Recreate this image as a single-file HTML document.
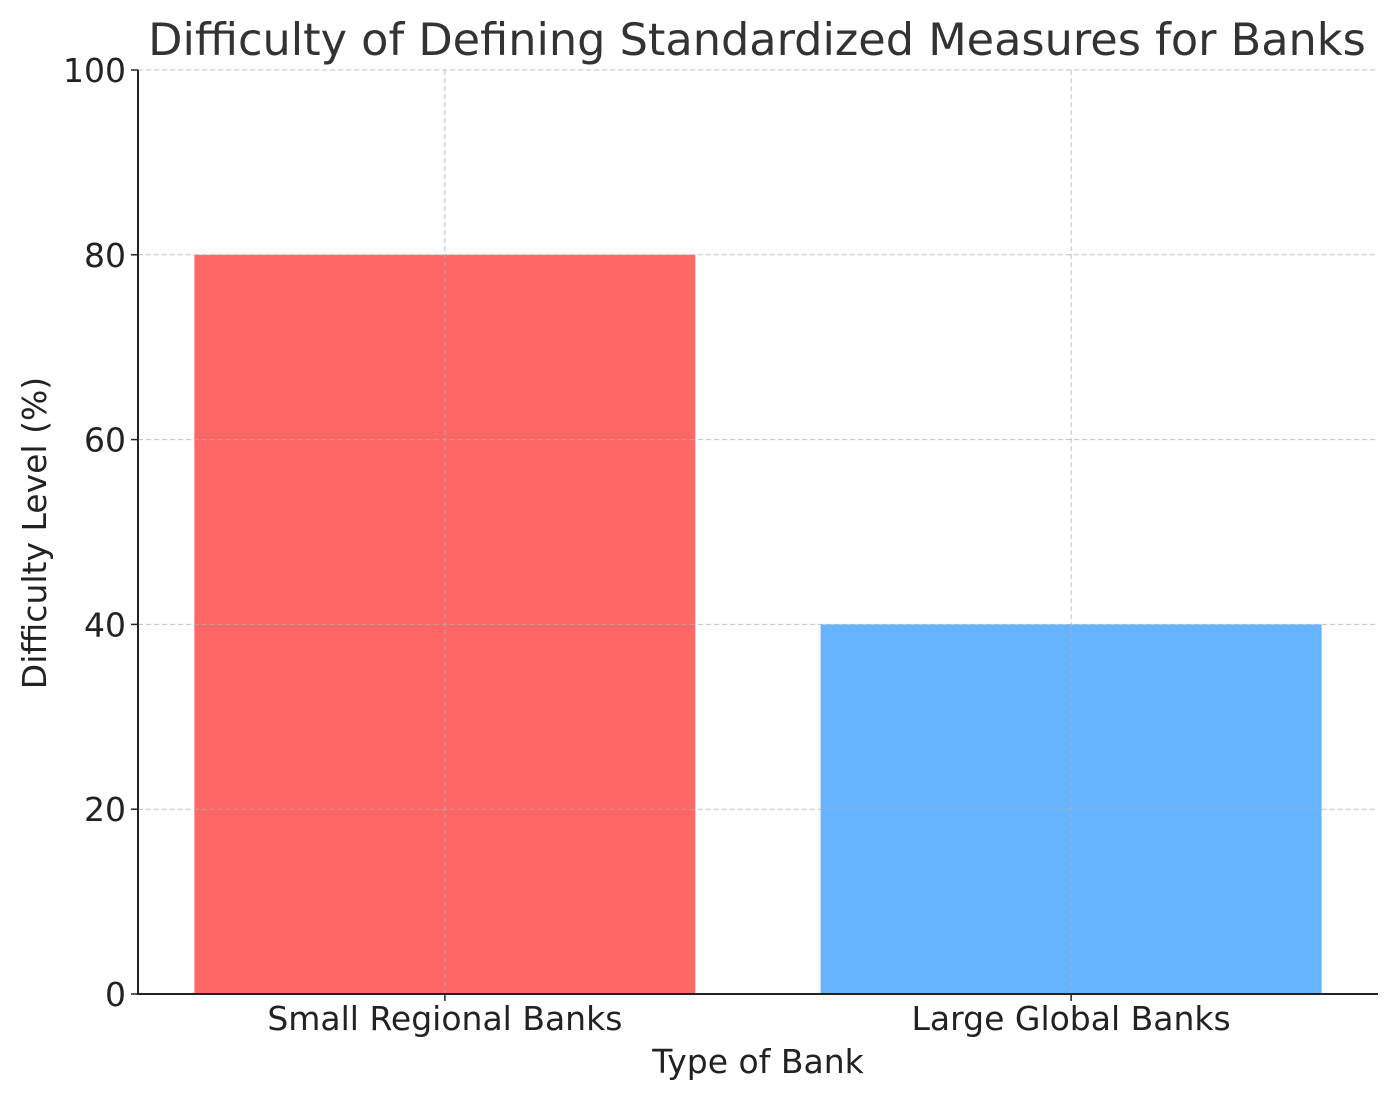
<!DOCTYPE html>
<html><head><meta charset="utf-8"><style>
html,body{margin:0;padding:0;background:#fff;}
svg{display:block;font-family:"DejaVu Sans","Liberation Sans",sans-serif;}
</style></head><body>
<svg id="chart" width="1397" height="1101" viewBox="0 0 1397 1101">
<text x="757" y="55" font-size="44.6" fill="#333" text-anchor="middle">Difficulty of Defining Standardized Measures for Banks</text>
<g id="bars"></g>
<g id="grid"></g>
<g id="yticks"></g>
<g id="xticks"></g>
<line x1="138" y1="70" x2="138" y2="994" stroke="#222" stroke-width="2"/>
<line x1="137" y1="994" x2="1378" y2="994" stroke="#222" stroke-width="2"/>
<text x="758" y="1073" font-size="33" fill="#222" text-anchor="middle">Type of Bank</text>
<text transform="translate(46,533) rotate(-90)" font-size="33" fill="#222" text-anchor="middle">Difficulty Level (%)</text>
</svg>
<script>
const categories = ["Small Regional Banks", "Large Global Banks"];
const values = [80, 40];
const colors = ["#ff6666", "#66b3ff"];
const yTicks = [0, 20, 40, 60, 80, 100];
const NS = "http://www.w3.org/2000/svg";
const L = 138, R = 1378, T = 70, B = 994;
const xMin = -0.49, xMax = 1.49, yMin = 0, yMax = 100;
function xs(v){ return L + (v - xMin) / (xMax - xMin) * (R - L); }
function ys(v){ return B - (v - yMin) / (yMax - yMin) * (B - T); }
function mk(tag, attrs, parent){ const e = document.createElementNS(NS, tag); for (const k in attrs) e.setAttribute(k, attrs[k]); document.getElementById(parent).appendChild(e); return e; }
const bw = 0.8;
values.forEach((v, i) => {
  const r = mk("rect", {x: xs(i - bw/2), y: ys(v), width: xs(i + bw/2) - xs(i - bw/2), height: ys(0) - ys(v), fill: colors[i]}, "bars");
  
  
  const g = mk("line", {x1: xs(i), x2: xs(i), y1: T, y2: B, stroke: "#b0b0b0", "stroke-width": 1, "stroke-dasharray": "5,3", opacity: 0.8}, "grid");
  
  
  const tk = mk("line", {x1: xs(i), x2: xs(i), y1: B, y2: B + 7, stroke: "#222", "stroke-width": 1.5}, "xticks");
  
  
  const t = mk("text", {x: xs(i), y: B + 36, "font-size": 33, fill: "#222", "text-anchor": "middle"}, "xticks");
  t.textContent = categories[i];
  
  
});
yTicks.forEach(v => {
  if (v > 0) {
    const g = mk("line", {x1: L, x2: R, y1: ys(v), y2: ys(v), stroke: "#b0b0b0", "stroke-width": 1, "stroke-dasharray": "5,3", opacity: 0.8}, "grid");
    
    
  }
  const tk = mk("line", {x1: L - 7, x2: L, y1: ys(v), y2: ys(v), stroke: "#222", "stroke-width": 1.5}, "yticks");
  
  
  const t = mk("text", {x: L - 12, y: ys(v) + 12, "font-size": 33, fill: "#222", "text-anchor": "end"}, "yticks");
  t.textContent = v;
  
  
});
</script>
</body></html>
